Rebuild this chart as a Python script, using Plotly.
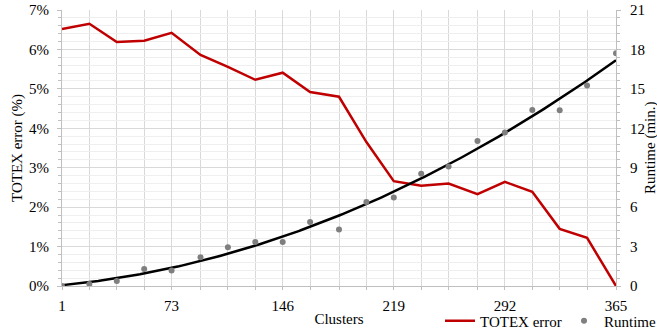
import numpy as np
import plotly.graph_objects as go

clusters = [1, 19, 37, 55, 73, 92, 110, 128, 146, 164, 183, 201, 219, 237, 255, 274, 292, 310, 328, 346, 365]
totex_error = [6.52, 6.65, 6.19, 6.22, 6.42, 5.86, 5.56, 5.23, 5.41, 4.92, 4.80, 3.65, 2.66, 2.54, 2.60, 2.33, 2.64, 2.39, 1.45, 1.22, 0.0]
runtime = [0.0, 0.15, 0.38, 1.3, 1.17, 2.18, 2.95, 3.35, 3.35, 4.87, 4.3, 6.4, 6.73, 8.55, 9.09, 11.04, 11.68, 13.4, 13.38, 15.25, 17.7]
x_tick_vals = [1, 73, 146, 219, 292, 365]
x_tick_text = ["1", "73", "146", "219", "292", "365"]

# quadratic trendline of runtime (as in the spreadsheet)
coef = np.polyfit(clusters, runtime, 2)
xs = np.linspace(clusters[0], clusters[-1], 200)
trend = np.polyval(coef, xs)

FONT = "Liberation Serif"
GRID = "#d9d9d9"
MINOR = "#efefef"
AX = "#bfbfbf"

def f(size=15):
    return dict(family=FONT, size=size, color="#000000")

fig = go.Figure()
fig.add_trace(go.Scatter(x=clusters, y=totex_error, mode="lines", name="TOTEX error",
                         line=dict(color="#C00000", width=2.5), yaxis="y", legend="legend"))
fig.add_trace(go.Scatter(x=xs, y=trend, mode="lines", showlegend=False,
                         line=dict(color="#000000", width=2.5), yaxis="y2"))
fig.add_trace(go.Scatter(x=clusters, y=runtime, mode="markers", name="Runtime",
                         marker=dict(color="#7f7f7f", size=6), yaxis="y2", legend="legend2"))

fig.update_layout(
    width=657, height=331,
    margin=dict(l=62, r=41, t=10, b=45, autoexpand=False),
    paper_bgcolor="white", plot_bgcolor="white",
    font=f(),
    xaxis=dict(range=[1, 365], tickvals=x_tick_vals, ticktext=x_tick_text,
               showgrid=True, gridcolor=GRID, gridwidth=1,
               minor=dict(tickmode="array", tickvals=clusters, showgrid=True, gridcolor=GRID,
                          ticks="outside", ticklen=3, tickcolor=AX),
               showline=True, linecolor=AX, zeroline=False,
               ticks="outside", ticklen=3, tickcolor=AX, ticklabelstandoff=3,
               automargin=False,
               title=dict(text="Clusters", standoff=0, font=f()),
               tickfont=f()),
    yaxis=dict(range=[0, 7], dtick=1, ticksuffix="%", showgrid=True, gridcolor=GRID,
               minor=dict(dtick=0.2, showgrid=True, gridcolor=MINOR, ticks="outside",
                          ticklen=3, tickcolor=AX),
               ticks="outside", ticklen=4, tickcolor=AX, ticklabelstandoff=5,
               showline=True, linecolor=AX, zeroline=False, automargin=False,
               title=dict(text="TOTEX error (%)", standoff=2, font=f()),
               tickfont=f()),
    yaxis2=dict(range=[0, 21], dtick=3, overlaying="y", side="right", showgrid=False,
                minor=dict(dtick=0.6, ticks="outside", ticklen=3, tickcolor=AX),
                ticks="outside", ticklen=4, tickcolor=AX, ticklabelstandoff=6,
                showline=True, linecolor=AX, zeroline=False, automargin=False,
                tickfont=f()),
    annotations=[dict(text="Runtime (min.)", textangle=-90, xref="paper", yref="paper",
                      x=(650 - 62) / 554, y=0.5, xanchor="center", yanchor="middle",
                      showarrow=False, font=f())],
    legend=dict(orientation="h", x=(440 - 62) / 554, xanchor="left", y=(286 - 321) / 276,
                yanchor="middle", font=f(), bgcolor="rgba(0,0,0,0)", itemwidth=30),
    legend2=dict(orientation="h", x=(564 - 62) / 554, xanchor="left", y=(286 - 321) / 276,
                 yanchor="middle", font=f(), bgcolor="rgba(0,0,0,0)", itemwidth=30),
)

fig.write_html("out.html", config={"displayModeBar": False},
               post_script="document.body.style.margin='0px';")
